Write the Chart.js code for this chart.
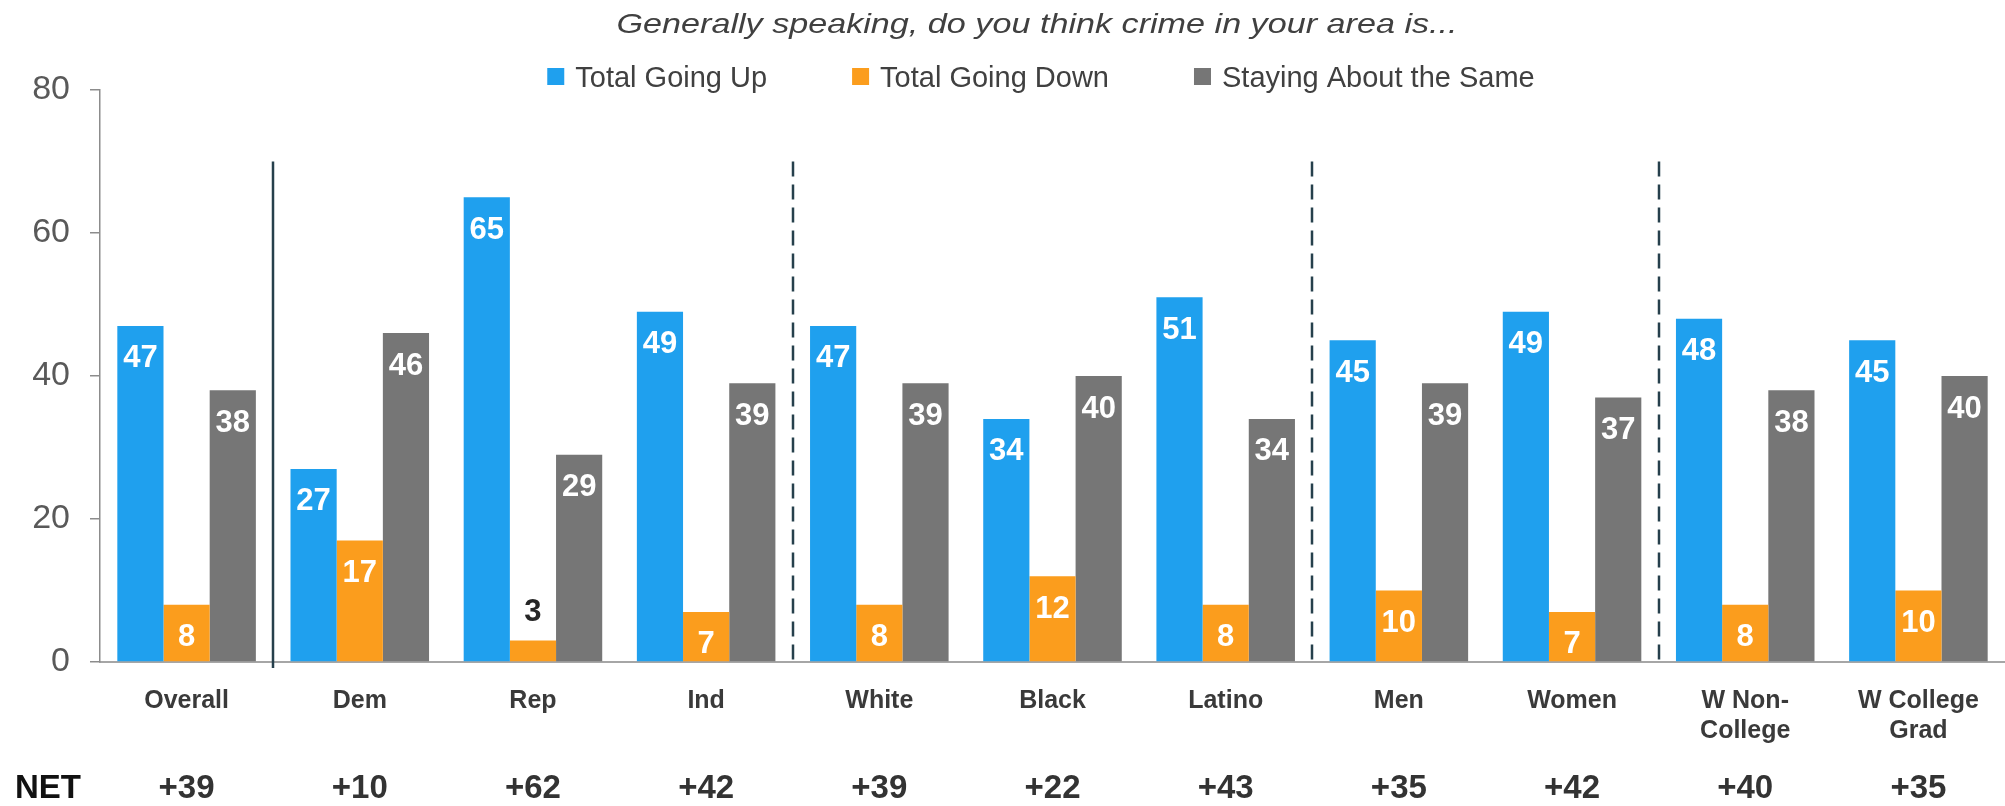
<!DOCTYPE html>
<html><head><meta charset="utf-8">
<script src="https://cdn.jsdelivr.net/npm/chart.js@4.4.0/dist/chart.umd.min.js"></script>
<style>html,body{margin:0;padding:0;background:#fff;overflow:hidden}#wrap{width:2005px;height:806px;position:relative}</style>
</head><body><div id="wrap"><canvas id="c" width="2005" height="806"></canvas></div>
<script>
const categories = ['Overall','Dem','Rep','Ind','White','Black','Latino','Men','Women',['W Non-','College'],['W College','Grad']];
const goingUp = [47,27,65,49,47,34,51,45,49,48,45];
const goingDown = [8,17,3,7,8,12,8,10,7,8,10];
const stayingSame = [38,46,29,39,39,40,34,39,37,38,40];
const netValues = ['+39','+10','+62','+42','+39','+22','+43','+35','+42','+40','+35'];
const seriesNames = ['Total Going Up','Total Going Down','Staying About the Same'];
const seriesColors = ['#1fa0ee','#fb9d1d','#767676'];
const yMin = 0, yMax = 80, yStep = 20;
const solidDividersAfter = [0];
const dashedDividersAfter = [3,6,8];
const dividerTopValue = 70;
const titleText = 'Generally speaking, do you think crime in your area is...';
const netLabel = 'NET';

const FONT = '"Liberation Sans", Arial, sans-serif';

const decor = {
  id: 'decor',
  afterDatasetsDraw(chart) {
    const ctx = chart.ctx;
    ctx.save();
    ctx.font = 'bold 31px ' + FONT;
    ctx.textAlign = 'center';
    ctx.textBaseline = 'middle';
    chart.data.datasets.forEach((ds, di) => {
      const meta = chart.getDatasetMeta(di);
      meta.data.forEach((bar, i) => {
        const v = ds.data[i];
        const h = bar.base - bar.y;
        if (h > 45) {
          ctx.fillStyle = '#ffffff';
          ctx.fillText(String(v), bar.x, bar.y + 33);
        } else {
          ctx.fillStyle = '#262626';
          ctx.fillText(String(v), bar.x, bar.y - 28);
        }
      });
    });
    ctx.restore();
  },
  afterDraw(chart) {
    const ctx = chart.ctx;
    const xs = chart.scales.x, ys = chart.scales.y;
    const half = (xs.getPixelForValue(1) - xs.getPixelForValue(0)) / 2;
    const top = ys.getPixelForValue(dividerTopValue);
    const bottom = ys.getPixelForValue(0);
    ctx.save();
    ctx.strokeStyle = '#26404c';
    ctx.lineWidth = 2.5;
    solidDividersAfter.forEach(i => {
      const x = Math.round(xs.getPixelForValue(i) + half);
      ctx.setLineDash([]);
      ctx.beginPath(); ctx.moveTo(x, top); ctx.lineTo(x, bottom + 6); ctx.stroke();
    });
    dashedDividersAfter.forEach(i => {
      const x = Math.round(xs.getPixelForValue(i) + half);
      ctx.setLineDash([15, 8]);
      ctx.beginPath(); ctx.moveTo(x, top); ctx.lineTo(x, bottom); ctx.stroke();
    });
    ctx.restore();

    // NET row
    ctx.save();
    ctx.font = 'bold 33px ' + FONT;
    ctx.textBaseline = 'middle';
    ctx.fillStyle = '#111111';
    ctx.textAlign = 'left';
    ctx.fillText(netLabel, 15, 789);
    ctx.fillStyle = '#333333';
    ctx.textAlign = 'center';
    netValues.forEach((t, i) => ctx.fillText(t, xs.getPixelForValue(i), 789));
    ctx.restore();

    // Title
    ctx.save();
    ctx.font = 'italic 28px ' + FONT;
    ctx.fillStyle = '#404040';
    ctx.textAlign = 'center';
    ctx.textBaseline = 'alphabetic';
    ctx.translate(1037, 33);
    ctx.scale(1.22, 1);
    ctx.fillText(titleText, 0, 0);
    ctx.restore();

    // Legend
    ctx.save();
    ctx.font = '29px ' + FONT;
    ctx.textBaseline = 'alphabetic';
    ctx.textAlign = 'left';
    const box = 17, gapBox = 11, gapItem = 85;
    const widths = chart.data.datasets.map(d => ctx.measureText(d.label).width);
    const total = widths.reduce((a, w) => a + box + gapBox + w, 0) + gapItem * (widths.length - 1);
    let x = 1041 - total / 2;
    chart.data.datasets.forEach((d, i) => {
      ctx.fillStyle = d.backgroundColor;
      ctx.fillRect(x, 68, box, box);
      ctx.fillStyle = '#404040';
      ctx.fillText(d.label, x + box + gapBox, 87);
      x += box + gapBox + widths[i] + gapItem;
    });
    ctx.restore();
  }
};

new Chart(document.getElementById('c'), {
  type: 'bar',
  data: {
    labels: categories,
    datasets: [
      { label: seriesNames[0], data: goingUp, backgroundColor: seriesColors[0] },
      { label: seriesNames[1], data: goingDown, backgroundColor: seriesColors[1] },
      { label: seriesNames[2], data: stayingSame, backgroundColor: seriesColors[2] }
    ]
  },
  options: {
    responsive: false,
    animation: false,
    devicePixelRatio: 1,
    layout: { padding: { top: 90, left: 0, right: 0, bottom: 0 } },
    datasets: { bar: { categoryPercentage: 0.8, barPercentage: 1.0, borderWidth: 0 } },
    plugins: { legend: { display: false }, title: { display: false }, tooltip: { enabled: false } },
    scales: {
      x: {
        offset: true,
        grid: { display: false },
        border: { color: '#a6a6a6', width: 2 },
        ticks: { font: { family: FONT, size: 25, weight: 'bold', lineHeight: 1.2 }, color: '#3a3a3a', padding: 16, maxRotation: 0, autoSkip: false },
        afterFit: s => { s.height = 144; }
      },
      y: {
        min: yMin, max: yMax,
        ticks: { stepSize: yStep, font: { family: FONT, size: 34 }, color: '#595959', padding: 20 },
        grid: { drawOnChartArea: false, drawTicks: true, tickLength: 10, color: '#8c8c8c', lineWidth: 1.5 },
        border: { color: '#8c8c8c', width: 1.5 },
        afterFit: s => { s.width = 100; }
      }
    }
  },
  plugins: [decor]
});
</script></body></html>
